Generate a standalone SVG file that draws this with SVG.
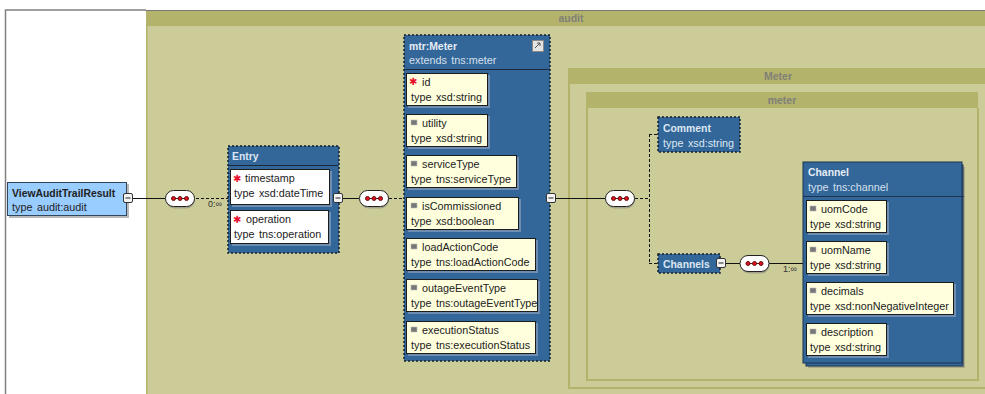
<svg xmlns="http://www.w3.org/2000/svg" width="985" height="394" viewBox="0 0 985 394">
<style>
text{font-family:"Liberation Sans",Arial,sans-serif;font-size:10.8px;word-spacing:1.5px;fill:#222}
.b{font-weight:bold;font-size:10.4px}
.blue{fill:#336699;stroke:#1d3350;stroke-width:1}
.dash{fill:#336699;stroke:#151f2c;stroke-width:1.5;stroke-dasharray:2 2}
.f{fill:#ffffdd;stroke:#1c1c1c;stroke-width:1}
.w{fill:#fff;stroke:#1c1c1c;stroke-width:1}
.sh{fill:#6f8db0}
.band{fill:#b3b36b}
.body{fill:#cccc99}
.edge{fill:none;stroke:#b3b36b;stroke-width:2}
.ttl{font-size:10.5px;font-weight:bold;fill:#808078;text-anchor:middle}
.c{fill:none;stroke:#111;stroke-width:1}
.d{fill:none;stroke:#111;stroke-width:1;stroke-dasharray:3 2}
.m{fill:#f4f4f4;stroke:#333;stroke-width:1}
.r{font-family:"DejaVu Sans",sans-serif;fill:#e8112d;font-size:10px}
.o{font-size:9px;fill:#333}
</style>
<defs>
<g id="bubble"><rect x="0.5" y="1" width="29" height="17" rx="8.5" fill="#777" opacity=".5"/><rect x="0" y="0" width="29" height="16" rx="8" fill="#fff" stroke="#222"/><path d="M6 8H23" stroke="#511" stroke-width="1"/><circle cx="8" cy="8" r="2" fill="#e01020" stroke="#611"/><circle cx="14.500" cy="8" r="2" fill="#e01020" stroke="#611"/><circle cx="21" cy="8" r="2" fill="#e01020" stroke="#611"/></g>
<g id="minus"><rect x="-4.500" y="-4.500" width="9" height="9" rx="1.500" class="m"/><path d="M-2.500 0H2.500" stroke="#222"/></g>
<g id="opt"><rect x="0" y="0" width="6" height="5" fill="#777" stroke="#bbb" stroke-width=".6"/></g>
</defs>
<rect width="985" height="394" fill="#fff"/>
<path d="M5.500 394V10H146" fill="none" stroke="#808080" stroke-width="1.500"/>
<g id="audit-frame">
<rect x="146" y="10" width="839" height="384" class="body"/>
<rect x="146" y="11" width="839" height="15" class="band"/>
<rect x="146" y="10" width="839" height="1" fill="#777"/>
<rect x="146" y="26" width="1.500" height="368" class="band"/>
<text x="571" y="22" class="ttl">audit</text>
</g>
<g id="meter-outer-frame">
<path d="M985 388H569V69H985" class="edge"/>
<rect x="568" y="68" width="417" height="16" class="band"/>
<text x="778" y="80" class="ttl">Meter</text>
</g>
<g id="meter-inner-frame">
<path d="M978 108V380H587V93" class="edge"/>
<rect x="586" y="92" width="392" height="16" class="band"/>
<text x="782" y="104" class="ttl">meter</text>
</g>
<g id="connectors">
<path class="c" d="M132 198.500H165"/>
<path class="d" d="M196 198.500H228"/>
<path class="c" d="M342 198.500H359"/>
<path class="d" d="M389 198.500H404"/>
<path class="c" d="M555 198.500H605"/>
<path class="d" d="M635 198.500H649M649.500 134V263M649 134.500H658M649 263.500H658"/>
<path class="c" d="M725 263.500H740M769 263.500H803"/>
</g>
<g id="ViewAuditTrailResult">
<rect x="9" y="184" width="120" height="34" fill="#8a8a8a" opacity=".6"/>
<rect x="7.500" y="182.500" width="119" height="33" fill="#99ccff" stroke="#33475c"/>
<text x="12" y="197" class="b">ViewAuditTrailResult</text>
<text x="12" y="211">type audit:audit</text>
<use href="#minus" x="128" y="198"/>
</g>
<text x="208" y="207" class="o">0:∞</text>
<use href="#bubble" x="165.500" y="190.500"/>
<g id="Entry">
<rect x="228" y="146" width="111" height="107" class="dash"/>
<path d="M229 165.500H338" stroke="#1d2a3a"/>
<text x="232" y="160" class="b" style="fill:#dce6f2">Entry</text>
<rect x="232" y="171" width="100" height="36" class="sh"/>
<rect x="230.500" y="169.500" width="99" height="35" class="w"/>
<text x="233" y="181.500" class="r">✱</text><text x="245" y="182">timestamp</text>
<text x="234" y="197">type xsd:dateTime</text>
<rect x="232" y="212" width="99" height="34" class="sh"/>
<rect x="230.500" y="210.500" width="98" height="33" class="w"/>
<text x="233" y="222.500" class="r">✱</text><text x="246" y="223">operation</text>
<text x="234" y="238">type tns:operation</text>
<use href="#minus" x="338" y="198"/>
</g>
<use href="#bubble" x="359.500" y="190.500"/>
<g id="mtr-Meter">
<rect x="404" y="35" width="146" height="326" class="dash"/>
<path d="M405 69.500H549" stroke="#1d2a3a"/>
<text x="409" y="50" class="b" style="fill:#e6edf5">mtr:Meter</text>
<text x="409" y="64" style="fill:#d5e0ec">extends tns:meter</text>
<rect x="532.500" y="40.500" width="11" height="11" fill="#e4e4e4" stroke="#888"/><path d="M535 48L540 43M537 43H540V46" stroke="#555" fill="none"/>
<rect x="408" y="75" width="82" height="33" class="sh"/><rect x="406.500" y="73.500" width="81" height="32" class="f"/>
<text x="409" y="84.500" class="r">✱</text><text x="422" y="86">id</text><text x="411" y="101">type xsd:string</text>
<rect x="408" y="116" width="82" height="33" class="sh"/><rect x="406.500" y="114.500" width="81" height="32" class="f"/>
<use href="#opt" x="411" y="120"/><text x="422" y="127">utility</text><text x="411" y="142">type xsd:string</text>
<rect x="408" y="157" width="111" height="33" class="sh"/><rect x="406.500" y="155.500" width="110" height="32" class="f"/>
<use href="#opt" x="411" y="161"/><text x="422" y="168">serviceType</text><text x="411" y="183">type tns:serviceType</text>
<rect x="408" y="199" width="113" height="33" class="sh"/><rect x="406.500" y="197.500" width="112" height="32" class="f"/>
<use href="#opt" x="411" y="203"/><text x="422" y="210">isCommissioned</text><text x="411" y="225">type xsd:boolean</text>
<rect x="408" y="240" width="130" height="33" class="sh"/><rect x="406.500" y="238.500" width="129" height="32" class="f"/>
<use href="#opt" x="411" y="244"/><text x="422" y="251">loadActionCode</text><text x="411" y="266">type tns:loadActionCode</text>
<rect x="408" y="281" width="132" height="33" class="sh"/><rect x="406.500" y="279.500" width="131" height="32" class="f"/>
<use href="#opt" x="411" y="285"/><text x="422" y="292">outageEventType</text><text x="411" y="307">type tns:outageEventType</text>
<rect x="408" y="323" width="130" height="33" class="sh"/><rect x="406.500" y="321.500" width="129" height="32" class="f"/>
<use href="#opt" x="411" y="327"/><text x="422" y="334">executionStatus</text><text x="411" y="349">type tns:executionStatus</text>
<use href="#minus" x="551" y="198"/>
</g>
<use href="#bubble" x="605.500" y="190.500"/>
<g id="Comment">
<rect x="658" y="117" width="82" height="35" class="dash"/>
<text x="663" y="132" class="b" style="fill:#dce6f2">Comment</text>
<text x="663" y="147" style="fill:#dce6f2">type xsd:string</text>
</g>
<g id="Channels">
<rect x="658" y="254" width="62" height="19" class="dash"/>
<text x="663" y="268" class="b" style="fill:#dce6f2">Channels</text>
<use href="#minus" x="721" y="263"/>
</g>
<use href="#bubble" x="740" y="255.500"/>
<text x="783" y="272" class="o">1:∞</text>
<g id="Channel">
<rect x="808" y="167" width="157" height="201" fill="#8a8a7a" opacity=".5"/>
<rect x="806" y="165" width="157" height="201" fill="#336699" stroke="#1d3350"/>
<rect x="803" y="162" width="159" height="201" class="blue"/>
<path d="M803 196.500H964" stroke="#1d3350"/>
<text x="808" y="176" class="b" style="fill:#e6edf5">Channel</text>
<text x="808" y="191" style="fill:#d5e0ec">type tns:channel</text>
<rect x="808" y="202" width="81" height="33" class="sh"/><rect x="806.500" y="200.500" width="80" height="32" class="f"/>
<use href="#opt" x="810" y="206"/><text x="821" y="213">uomCode</text><text x="810" y="228">type xsd:string</text>
<rect x="808" y="243" width="81" height="33" class="sh"/><rect x="806.500" y="241.500" width="80" height="32" class="f"/>
<use href="#opt" x="810" y="247"/><text x="821" y="254">uomName</text><text x="810" y="269">type xsd:string</text>
<rect x="808" y="284" width="148" height="33" class="sh"/><rect x="806.500" y="282.500" width="147" height="32" class="f"/>
<use href="#opt" x="810" y="288"/><text x="821" y="295">decimals</text><text x="810" y="310">type xsd:nonNegativeInteger</text>
<rect x="808" y="325" width="81" height="33" class="sh"/><rect x="806.500" y="323.500" width="80" height="32" class="f"/>
<use href="#opt" x="810" y="329"/><text x="821" y="336">description</text><text x="810" y="351">type xsd:string</text>
</g>
</svg>
